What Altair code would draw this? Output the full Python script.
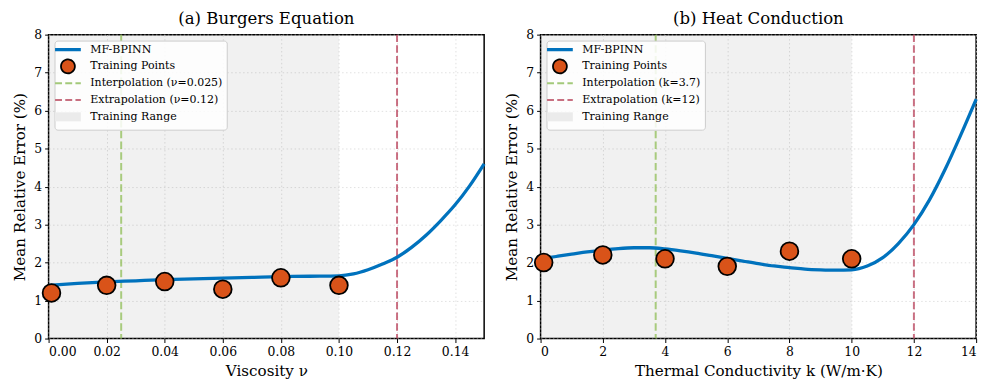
import altair as alt
import pandas as pd

# ---------------- data ----------------
# (a) Burgers equation
burgers_curve_x = [0.000, 0.010, 0.020, 0.030, 0.040, 0.050, 0.060, 0.070, 0.080, 0.090, 0.100,
                   0.105, 0.110, 0.115, 0.120, 0.125, 0.130, 0.135, 0.140, 0.145, 0.150]
burgers_curve_y = [1.40, 1.45, 1.49, 1.52, 1.55, 1.57, 1.59, 1.61, 1.63, 1.64, 1.65,
                   1.70, 1.81, 1.96, 2.14, 2.40, 2.72, 3.10, 3.52, 4.02, 4.60]
burgers_train_x = [0.001, 0.02, 0.04, 0.06, 0.08, 0.10]
burgers_train_y = [1.2, 1.4, 1.5, 1.3, 1.6, 1.4]
burgers_range = [0.0, 0.10]
burgers_lines = [0.025, 0.12]
burgers_labels = ["MF-BPINN", "Training Points", "Interpolation (\u03bd=0.025)",
                  "Extrapolation (\u03bd=0.12)", "Training Range"]
burgers_xticks = [0.00, 0.02, 0.04, 0.06, 0.08, 0.10, 0.12, 0.14]

# (b) Heat conduction
heat_curve_x = [0, 0.5, 1, 1.5, 2, 2.5, 3, 3.5, 4, 4.5, 5, 5.5, 6, 6.5, 7, 7.5, 8, 8.5, 9, 9.5,
                10, 10.5, 11, 11.5, 12, 12.5, 13, 13.5, 14]
heat_curve_y = [2.10, 2.16, 2.22, 2.28, 2.33, 2.37, 2.39, 2.39, 2.36, 2.31, 2.25, 2.18, 2.11, 2.04,
                1.97, 1.91, 1.87, 1.83, 1.81, 1.80, 1.81, 1.91, 2.13, 2.50, 3.00, 3.65, 4.45, 5.35, 6.30]
heat_train_x = [0.1, 2, 4, 6, 8, 10]
heat_train_y = [2.0, 2.2, 2.1, 1.9, 2.3, 2.1]
heat_range = [0.0, 10.0]
heat_lines = [3.7, 12.0]
heat_labels = ["MF-BPINN", "Training Points", "Interpolation (k=3.7)",
               "Extrapolation (k=12)", "Training Range"]
heat_xticks = [0, 2, 4, 6, 8, 10, 12, 14]

y_ticks = [0, 1, 2, 3, 4, 5, 6, 7, 8]

# ---------------- style ----------------
FONT = "DejaVu Serif"
BLUE = "#0072BD"
ORANGE = "#D95319"
GREEN = "#8fbd55"
RED = "#b8405a"
GRAYFILL = "#000000"
colors = [BLUE, ORANGE, GREEN, RED, GRAYFILL]

W, H = 440, 307

LINE = "M-1.86,0H1.86"
RECT = "M-1.86,-0.65H1.86V0.65H-1.86Z"
shapes = [LINE, "circle", LINE, LINE, RECT]

sym_fill = {"expr": f"datum.index == 1 ? '{ORANGE}' : (datum.index == 4 ? '#ebebeb' : 'transparent')"}
sym_stroke = {"expr": f"datum.index == 0 ? '{BLUE}' : (datum.index == 1 ? 'black' : (datum.index == 2 ? '#a3c97a' : (datum.index == 3 ? '#c86f80' : 'transparent')))"}
sym_width = {"expr": "datum.index == 0 ? 3.3 : (datum.index == 1 ? 1.8 : 2)"}
sym_dash = {"expr": "datum.index == 2 || datum.index == 3 ? [7, 3.3] : [1, 0]"}


def panel(cx, cy, tx, ty, rng, lines, labels, xdomain, xticks, xfmt, xtitle, title):
    curve = pd.DataFrame({"x": cx, "y": cy, "s": labels[0]})
    train = pd.DataFrame({"x": tx, "y": ty, "s": labels[1]})
    rules = pd.DataFrame({"x": lines, "s": [labels[2], labels[3]]})
    band = pd.DataFrame({"x": [rng[0]], "x2": [rng[1]], "y": [y_ticks[0]], "y2": [y_ticks[-1]], "s": labels[4]})

    xscale = alt.Scale(domain=xdomain, nice=False, zero=False)
    yscale = alt.Scale(domain=[y_ticks[0], y_ticks[-1]], nice=False)
    xaxis = alt.Axis(values=xticks, format=xfmt, title=xtitle)
    yaxis = alt.Axis(values=y_ticks, format="d", title="Mean Relative Error (%)")
    # colour scale lists the series in reverse order so that its (hidden) legend
    # is not merged with the shape legend below
    color = alt.Color("s:N", scale=alt.Scale(domain=labels[::-1], range=colors[::-1]), legend=None)
    shape = alt.Shape(
        "s:N",
        scale=alt.Scale(domain=labels, range=shapes),
        legend=alt.Legend(
            title=None, orient="top-left", offset=6,
            symbolFillColor=sym_fill, symbolStrokeColor=sym_stroke,
            symbolStrokeWidth=sym_width, symbolDash=sym_dash, symbolOpacity=1,
        ),
    )

    x = alt.X("x:Q", scale=xscale, axis=xaxis)
    y = alt.Y("y:Q", scale=yscale, axis=yaxis)

    band_l = alt.Chart(band).mark_rect(opacity=0.055).encode(
        x=x, x2="x2:Q", y=y, y2="y2:Q", color=color)
    rule_l = alt.Chart(rules).mark_rule(strokeDash=[7.5, 3.3], strokeWidth=2, opacity=0.75).encode(
        x=x, color=color)
    line_l = alt.Chart(curve).mark_line(strokeWidth=3.3, interpolate="monotone").encode(
        x=x, y=y, color=color)
    pts_l = alt.Chart(train).mark_point(filled=True, size=320, opacity=1, stroke="black",
                                        strokeWidth=1.8).encode(
        x=x, y=y, color=color, shape=shape)

    return alt.layer(band_l, rule_l, line_l, pts_l).properties(
        width=W, height=H,
        title=alt.TitleParams(title, font=FONT, fontSize=16.7, fontWeight="normal", offset=1, color="black"),
    )


left = panel(burgers_curve_x, burgers_curve_y, burgers_train_x, burgers_train_y, burgers_range,
             burgers_lines, burgers_labels, [0, 0.15], burgers_xticks, ".2f", "Viscosity \u03bd",
             "(a) Burgers Equation")
right = panel(heat_curve_x, heat_curve_y, heat_train_x, heat_train_y, heat_range,
              heat_lines, heat_labels, [0, 14], heat_xticks, "d", "Thermal Conductivity k (W/m\u00b7K)",
              "(b) Heat Conduction")

chart = alt.hconcat(left, right, spacing=12).resolve_scale(
    color="independent", shape="independent"
).resolve_legend(shape="independent").properties(
    padding={"left": 4, "top": 0, "right": 5, "bottom": 2}
).configure(font=FONT).configure_axis(
    labelFont=FONT, titleFont=FONT, labelFontSize=12.5, titleFontSize=15.3, titleFontWeight="normal",
    labelColor="black", titleColor="black", tickColor="black", tickSize=4, tickWidth=1,
    domain=False, grid=True, gridColor="#d9d9d9", gridDash=[1.5, 2.5], gridWidth=0.8,
    labelPadding=3, titlePadding=6,
).configure_view(stroke="black", strokeWidth=1.5).configure_legend(
    labelFont=FONT, labelFontSize=11.1, labelColor="black", fillColor="rgba(255,255,255,0.85)",
    strokeColor="#cccccc", cornerRadius=3, padding=3.5, symbolSize=196, rowPadding=-7.3,
    gridAlign="all", labelOffset=17, symbolOffset=4.5,
)

chart.save("out.html", embed_options={"renderer": "svg", "actions": False})
